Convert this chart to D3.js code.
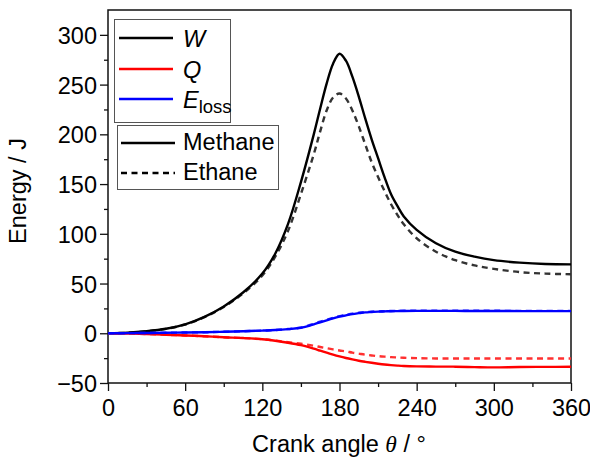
<!DOCTYPE html>
<html>
<head>
<meta charset="utf-8">
<script src="https://cdn.jsdelivr.net/npm/d3@7"></script>
<style>
  html, body { margin: 0; padding: 0; background: #fff; }
  svg text { font-family: "Liberation Sans", Arial, Helvetica, sans-serif; }
</style>
</head>
<body>
<svg id="chart" width="590" height="464"></svg>
<script>
// Crank angle samples (degrees)
const angle = [0, 15, 30, 45, 60, 75, 90, 105, 120, 130, 140, 150, 160, 165, 170, 175, 180,
               185, 190, 195, 200, 205, 210, 215, 220, 225, 230, 240, 255, 270, 285, 300, 320, 340, 360];

// Work W (J)
const wMethane = [0, 0.5, 2, 4.5, 9, 16.5, 27, 41, 60, 80, 110, 152, 200, 226, 251, 271, 281,
                  274, 258, 238, 216, 195, 176, 157, 140, 128, 117.5, 104, 90.5, 82, 77, 73.5, 71, 69.6, 69.3];
const wEthane  = [0, 0.5, 2, 4.4, 8.8, 16.2, 26.5, 40, 58, 77, 103, 140, 180, 203, 224, 237, 241,
                  236, 224, 208, 190, 172, 157, 143, 130, 119, 109.5, 95.5, 82, 73.5, 68.2, 64.8, 61.5, 60, 59.3];

// Heat Q (J)
const qMethane = [0, -0.3, -0.8, -1.5, -2.2, -3, -4, -4.8, -6, -7.5, -9.5, -12, -15.5, -17.5, -19.5, -21.5, -23.3,
                  -24.9, -26.3, -27.6, -28.7, -29.7, -30.6, -31.4, -32, -32.5, -32.9, -33.3, -33.5, -33.6, -34, -34.3, -33.9, -33.8, -33.7];
const qEthane  = [0, -0.3, -0.8, -1.5, -2.2, -3, -4, -4.8, -6, -7.3, -9, -10.5, -12.5, -13.8, -15, -16.2, -17.3,
                  -18.2, -19.5, -20.5, -21.5, -22.3, -23, -23.5, -24, -24.3, -24.6, -25, -25.3, -25.3, -25.3, -25.3, -25.3, -25.3, -25.3];

// Energy loss E_loss (J)
const eMethane = [0, 0.1, 0.3, 0.5, 0.8, 1, 1.5, 2, 2.7, 3.3, 4.2, 5.5, 9, 11, 13, 15, 16.7,
                  18, 19.3, 20.2, 21, 21.4, 21.8, 22, 22.2, 22.3, 22.4, 22.5, 22.5, 22.5, 22.4, 22.4, 22.3, 22.3, 22.3];
const eEthane  = [0, 0.1, 0.3, 0.5, 0.8, 1, 1.5, 2, 2.7, 3.3, 4.3, 5.7, 9.5, 11.6, 13.6, 15.5, 17.2,
                  18.5, 19.7, 20.6, 21.3, 21.7, 22, 22.2, 22.4, 22.5, 22.6, 22.7, 22.7, 22.7, 22.6, 22.6, 22.5, 22.5, 22.5];

const xTicks = [0, 60, 120, 180, 240, 300, 360];
const yTicks = [-50, 0, 50, 100, 150, 200, 250, 300];

const svg = d3.select("#chart");
const mLeft = 108, mRight = 571, mTop = 10, mBottom = 383;

const x = d3.scaleLinear().domain([0, 360]).range([mLeft, mRight]);
const y = d3.scaleLinear().domain([-50, 325]).range([mBottom, mTop]);

const fs = 23.5;

// minor ticks
const xMinor = d3.range(30, 360, 60);
const yMinor = d3.range(-25, 325, 50);

const gx = svg.append("g").attr("transform", `translate(0,${mBottom})`);
gx.call(d3.axisBottom(x).tickValues(xTicks).tickSize(8).tickPadding(8).tickFormat(d3.format("d")));
gx.append("g").call(d3.axisBottom(x).tickValues(xMinor).tickSize(4).tickFormat(""));

const gy = svg.append("g").attr("transform", `translate(${mLeft},0)`);
gy.call(d3.axisLeft(y).tickValues(yTicks).tickSize(8).tickPadding(3).tickFormat(d3.format("d")));
gy.append("g").call(d3.axisLeft(y).tickValues(yMinor).tickSize(4).tickFormat(""));

svg.selectAll(".domain").remove();
svg.selectAll(".tick line").attr("stroke", "#111").attr("stroke-width", 1.3);
svg.selectAll(".tick text").attr("font-size", fs).attr("fill", "#000")
   .attr("font-family", "'Liberation Sans', Arial, sans-serif");
gy.selectAll(".tick text").attr("dy", "0.36em");

// plot frame
svg.append("rect").attr("x", mLeft).attr("y", mTop)
   .attr("width", mRight - mLeft).attr("height", mBottom - mTop)
   .attr("fill", "none").attr("stroke", "#111").attr("stroke-width", 1.5);

// curves
const line = vals => d3.line()
  .x((d, i) => x(angle[i]))
  .y(d => y(d))
  .curve(d3.curveCatmullRom.alpha(0.5))(vals);

const plot = svg.append("g");
const series = [
  { v: wEthane,  c: "#333333", dash: "6,4.5" },
  { v: wMethane, c: "#000000", dash: null },
  { v: qEthane,  c: "#ff3030", dash: "6,4.5" },
  { v: qMethane, c: "#ff0000", dash: null },
  { v: eEthane,  c: "#3030ff", dash: "6,4.5" },
  { v: eMethane, c: "#0000ff", dash: null }
];
series.forEach(s => {
  plot.append("path").attr("d", line(s.v))
    .attr("fill", "none").attr("stroke", s.c).attr("stroke-width", 2.4)
    .attr("stroke-dasharray", s.dash);
});

// legends
const leg = svg.append("g");
leg.append("rect").attr("x", 114.5).attr("y", 19.5).attr("width", 116).attr("height", 103)
   .attr("fill", "#fff").attr("stroke", "#555").attr("stroke-width", 1);
leg.append("rect").attr("x", 117.5).attr("y", 125.5).attr("width", 161).attr("height", 64)
   .attr("fill", "#fff").attr("stroke", "#555").attr("stroke-width", 1);

const qtyItems = [
  { c: "#000000", y: 38, t: "W" },
  { c: "#ff0000", y: 69, t: "Q" },
  { c: "#0000ff", y: 99, t: "E", sub: "loss" }
];
qtyItems.forEach(d => {
  leg.append("line").attr("x1", 119).attr("x2", 173).attr("y1", d.y).attr("y2", d.y)
     .attr("stroke", d.c).attr("stroke-width", 2.4);
  const t = leg.append("text").attr("x", 183).attr("y", d.y + 8.5).attr("font-size", fs);
  t.append("tspan").attr("font-style", "italic").text(d.t);
  if (d.sub) t.append("tspan").attr("font-size", 18.5).attr("dy", 5).text(d.sub);
});

const gasItems = [
  { y: 143, t: "Methane", dash: null },
  { y: 173, t: "Ethane", dash: "6,4.5" }
];
gasItems.forEach(d => {
  leg.append("line").attr("x1", 121).attr("x2", 175).attr("y1", d.y).attr("y2", d.y)
     .attr("stroke", "#000").attr("stroke-width", 2.4).attr("stroke-dasharray", d.dash);
  leg.append("text").attr("x", 183).attr("y", d.y + 7).attr("font-size", fs).text(d.t);
});

// axis titles
const xt = svg.append("text").attr("x", 339).attr("y", 452)
   .attr("text-anchor", "middle").attr("font-size", fs);
xt.append("tspan").text("Crank angle ");
xt.append("tspan").attr("font-style", "italic").attr("font-family", "'Liberation Serif', 'Times New Roman', serif").text("θ");
xt.append("tspan").text(" / °");

svg.append("text").attr("transform", `translate(26,191) rotate(-90)`)
   .attr("text-anchor", "middle").attr("font-size", fs).text("Energy / J");
</script>
</body>
</html>
